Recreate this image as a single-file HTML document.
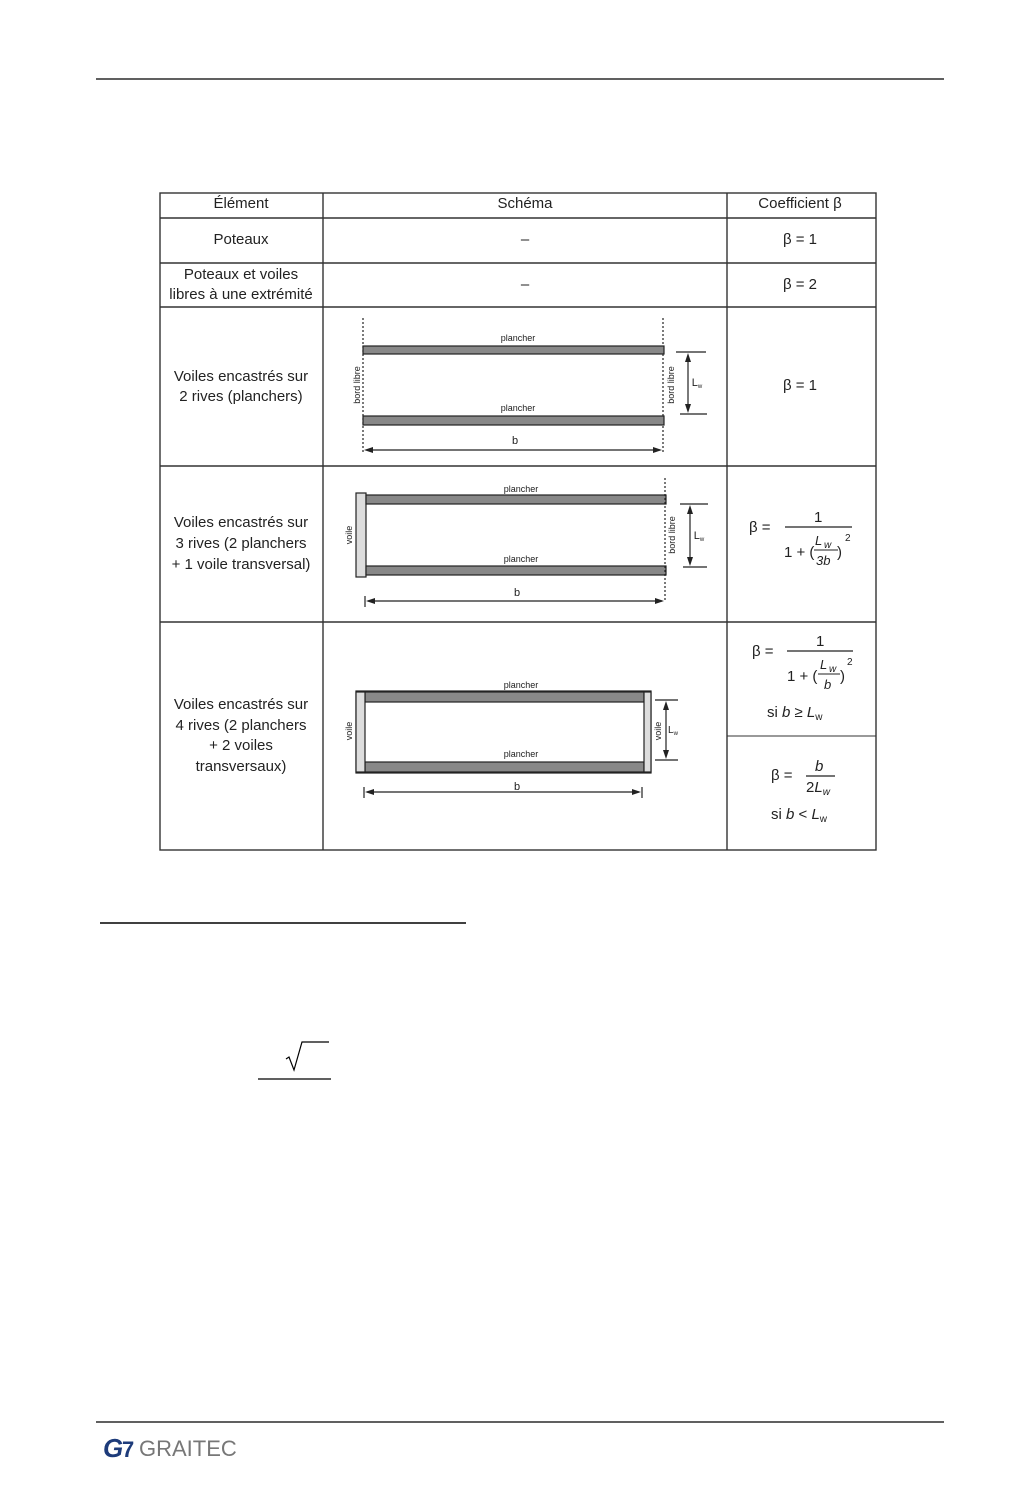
<!DOCTYPE html>
<html><head><meta charset="utf-8"><style>
html,body{margin:0;padding:0;background:#fff}
svg{display:block}
text{font-family:"Liberation Sans",sans-serif;fill:#222}
</style></head><body>
<svg width="1014" height="1507" viewBox="0 0 1014 1507" xmlns="http://www.w3.org/2000/svg">
<line x1="96" y1="79" x2="944" y2="79" stroke="#000" stroke-width="1.2"/>
<g stroke="#333" stroke-width="1.4" fill="none">
<rect x="160" y="193" width="716" height="657"/>
<line x1="323" y1="193" x2="323" y2="850"/>
<line x1="727" y1="193" x2="727" y2="850"/>
<line x1="160" y1="218" x2="876" y2="218"/>
<line x1="160" y1="263" x2="876" y2="263"/>
<line x1="160" y1="307" x2="876" y2="307"/>
<line x1="160" y1="466" x2="876" y2="466"/>
<line x1="160" y1="622" x2="876" y2="622"/>
<line x1="727" y1="736" x2="876" y2="736" stroke-width="1"/>
</g>
<g font-size="15" text-anchor="middle">
<text x="241" y="208">Élément</text>
<text x="525" y="208">Schéma</text>
<text x="800" y="208">Coefficient β</text>
<text x="241" y="244">Poteaux</text>
<text x="525" y="244">–</text>
<text x="800" y="244">β = 1</text>
<text x="241" y="279">Poteaux et voiles</text>
<text x="241" y="299">libres à une extrémité</text>
<text x="525" y="289">–</text>
<text x="800" y="289">β = 2</text>
<text x="241" y="381">Voiles encastrés sur</text>
<text x="241" y="401">2 rives (planchers)</text>
<text x="800" y="390">β = 1</text>
<text x="241" y="527">Voiles encastrés sur</text>
<text x="241" y="548">3 rives (2 planchers</text>
<text x="241" y="569">+ 1 voile transversal)</text>
<text x="241" y="709">Voiles encastrés sur</text>
<text x="241" y="730">4 rives (2 planchers</text>
<text x="241" y="750">+ 2 voiles</text>
<text x="241" y="771">transversaux)</text>
</g>
<g stroke="#222" stroke-width="1.2">
<line x1="363" y1="318" x2="363" y2="452" stroke-dasharray="2,2"/>
<line x1="663" y1="318" x2="663" y2="452" stroke-dasharray="2,2"/>
<rect x="363" y="346" width="301" height="8" fill="#888"/>
<rect x="363" y="416" width="301" height="9" fill="#888"/>
<line x1="676" y1="352" x2="706" y2="352"/>
<line x1="680" y1="414" x2="707" y2="414"/>
<line x1="688" y1="356" x2="688" y2="410"/>
<line x1="367" y1="450" x2="660" y2="450"/>
</g>
<g fill="#222">
<polygon points="688,353 685,362 691,362"/><polygon points="688,413 685,404 691,404"/>
<polygon points="364,450 373,447 373,453"/><polygon points="662,450 653,447 653,453"/>
</g>
<g font-size="9" text-anchor="middle">
<text x="518" y="341">plancher</text><text x="518" y="411">plancher</text>
<text x="515" y="444" font-size="11">b</text>
<text x="697" y="386" font-size="11">L<tspan font-size="6" dy="2">w</tspan></text>
<text transform="translate(360,385) rotate(-90)">bord libre</text>
<text transform="translate(674,385) rotate(-90)">bord libre</text>
</g>
<g stroke="#222" stroke-width="1.2">
<rect x="356" y="493" width="10" height="84" fill="#ddd"/>
<rect x="366" y="495" width="300" height="9" fill="#888"/>
<rect x="366" y="566" width="300" height="9" fill="#888"/>
<line x1="665" y1="478" x2="665" y2="602" stroke-dasharray="2,2"/>
<line x1="680" y1="504" x2="708" y2="504"/>
<line x1="683" y1="567" x2="707" y2="567"/>
<line x1="690" y1="508" x2="690" y2="563"/>
<line x1="365" y1="596" x2="365" y2="607"/>
<line x1="368" y1="601" x2="662" y2="601"/>
</g>
<g fill="#222">
<polygon points="690,505 687,514 693,514"/><polygon points="690,566 687,557 693,557"/>
<polygon points="366,601 375,598 375,604"/><polygon points="664,601 655,598 655,604"/>
</g>
<g font-size="9" text-anchor="middle">
<text x="521" y="492">plancher</text><text x="521" y="562">plancher</text>
<text x="517" y="596" font-size="11">b</text>
<text x="699" y="539" font-size="11">L<tspan font-size="6" dy="2">w</tspan></text>
<text transform="translate(352,535) rotate(-90)">voile</text>
<text transform="translate(675,535) rotate(-90)">bord libre</text>
</g>
<g stroke="#222" stroke-width="1.2">
<rect x="356" y="691" width="295" height="82" fill="#fff"/>
<rect x="365" y="692" width="279" height="10" fill="#888"/>
<rect x="365" y="762" width="279" height="10" fill="#888"/>
<rect x="356" y="692" width="9" height="80" fill="#ddd"/>
<rect x="644" y="692" width="7" height="80" fill="#ddd"/>
<line x1="655" y1="700" x2="678" y2="700"/>
<line x1="655" y1="760" x2="678" y2="760"/>
<line x1="666" y1="704" x2="666" y2="756"/>
<line x1="364" y1="787" x2="364" y2="798"/>
<line x1="642" y1="787" x2="642" y2="798"/>
<line x1="367" y1="792" x2="639" y2="792"/>
</g>
<g fill="#222">
<polygon points="666,701 663,710 669,710"/><polygon points="666,759 663,750 669,750"/>
<polygon points="365,792 374,789 374,795"/><polygon points="641,792 632,789 632,795"/>
</g>
<g font-size="9" text-anchor="middle">
<text x="521" y="688">plancher</text><text x="521" y="757">plancher</text>
<text x="517" y="790" font-size="11">b</text>
<text x="673" y="733" font-size="10">L<tspan font-size="6" dy="2">w</tspan></text>
<text transform="translate(352,731) rotate(-90)">voile</text>
<text transform="translate(661,731) rotate(-90)">voile</text>
</g>
<g font-size="15">
<text x="749" y="532">β  =</text>
<line x1="785" y1="527" x2="852" y2="527" stroke="#222" stroke-width="1.2"/>
<text x="814" y="522">1</text>
<text x="784" y="557">1 + (</text>
<text x="815" y="545" font-size="13" font-style="italic">L</text><text x="824" y="548" font-size="10" font-style="italic">w</text>
<line x1="814" y1="550" x2="838" y2="550" stroke="#222"/>
<text x="816" y="565" font-size="13" font-style="italic">3b</text>
<text x="837" y="557">)</text><text x="845" y="541" font-size="10">2</text>

<text x="752" y="656">β  =</text>
<line x1="787" y1="651" x2="853" y2="651" stroke="#222" stroke-width="1.2"/>
<text x="816" y="646">1</text>
<text x="787" y="681">1 + (</text>
<text x="820" y="669" font-size="13" font-style="italic">L</text><text x="829" y="672" font-size="10" font-style="italic">w</text>
<line x1="818" y1="674" x2="840" y2="674" stroke="#222"/>
<text x="824" y="689" font-size="13" font-style="italic">b</text>
<text x="840" y="681">)</text><text x="847" y="665" font-size="10">2</text>
<text x="767" y="717">si <tspan font-style="italic">b</tspan>  ≥ <tspan font-style="italic">L</tspan><tspan font-size="10" dy="3">w</tspan></text>

<text x="771" y="780">β  =</text>
<line x1="806" y1="776" x2="835" y2="776" stroke="#222" stroke-width="1.2"/>
<text x="815" y="771" font-style="italic">b</text>
<text x="806" y="792">2<tspan font-style="italic">L</tspan><tspan font-size="10" dy="3" font-style="italic">w</tspan></text>
<text x="771" y="819">si <tspan font-style="italic">b</tspan> &lt; <tspan font-style="italic">L</tspan><tspan font-size="10" dy="3">w</tspan></text>
</g>
<line x1="100" y1="923" x2="466" y2="923" stroke="#000" stroke-width="1.5"/>
<polyline points="286,1059 289,1057 294,1070 302,1042 329,1042" fill="none" stroke="#000" stroke-width="1.2"/>
<line x1="258" y1="1079" x2="331" y2="1079" stroke="#000" stroke-width="1.2"/>
<line x1="96" y1="1422" x2="944" y2="1422" stroke="#000" stroke-width="1.2"/>
<text x="103" y="1457" font-size="26" font-weight="bold" font-style="italic" style="fill:#1d3b7a">G</text>
<text x="122" y="1457" font-size="22" font-weight="bold" style="fill:#1d3b7a">7</text>
<text x="139" y="1456" font-size="22" style="fill:#777">GRAITEC</text>
</svg>
</body></html>
